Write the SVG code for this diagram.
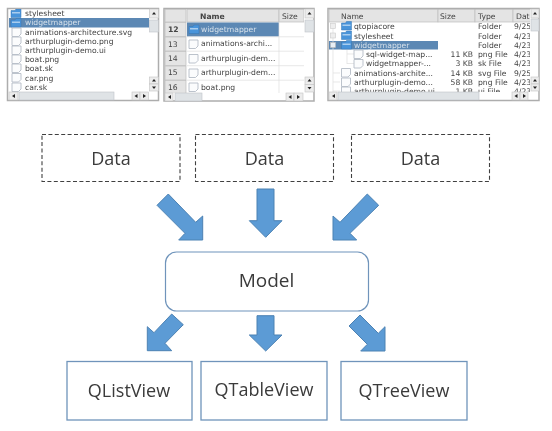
<svg xmlns="http://www.w3.org/2000/svg" width="552" height="431" viewBox="0 0 552 431">
<style>
.t{font-family:"DejaVu Sans",sans-serif;font-size:7.65px;fill:#444}
.b{font-weight:bold}
.w{fill:#d5e0ea}
.frame{fill:#fff;stroke:#adadad;stroke-width:1.5}
.hd{fill:#e4e4e4;stroke:#bdbdbd;stroke-width:.7}
.sel{fill:#5c88b4}
.btn{fill:#ececec;stroke:#c4c4c4;stroke-width:.6}
.thumb{fill:#dfe3e6;stroke:#c0c4c8;stroke-width:.6}
.ar{fill:#222}
.grid{stroke:#dedede;stroke-width:.7;fill:none}
.data{fill:#fff;stroke:#404040;stroke-width:1.1;stroke-dasharray:4 2.4}
.model{fill:#fff;stroke:#6f94bb;stroke-width:1.2}
.view{fill:#fff;stroke:#6f94bb;stroke-width:1.3}
.lab{font-family:"Open Sans","Noto Sans",sans-serif;fill:#3a3a3a;text-anchor:middle}
.arrow{fill:#5b9bd5;stroke:#4d82b3;stroke-width:1}
</style>
<defs>
<filter id="soft" x="-2%" y="-2%" width="104%" height="104%"><feGaussianBlur stdDeviation="0.45"/></filter>
<filter id="soft2" x="-2%" y="-2%" width="104%" height="104%"><feGaussianBlur stdDeviation="0.3"/></filter>
<g id="file"><path d="M0 0H9V6L6.500 8.500H0Z" fill="#fbfcfd" stroke="#b4bcc6" stroke-width=".9"/></g>
<g id="folder"><path d="M0 1.500H4L5 0H10V8.500H0Z" fill="#4a94da" stroke="#3576b4" stroke-width=".5"/><path d="M1 3H9V4.500H1Z" fill="#a9cdee"/></g>
<clipPath id="c1"><rect x="9" y="9" width="140" height="83"/></clipPath>
<clipPath id="c2"><rect x="165" y="9" width="139" height="84"/></clipPath>
<clipPath id="c3"><rect x="329" y="9" width="201" height="83"/></clipPath>
</defs>

<g id="list-screenshot" filter="url(#soft)">
<rect class="frame" x="7.500" y="8.500" width="151" height="92"/>
<g clip-path="url(#c1)">
<rect class="sel" x="9" y="18" width="140" height="9.500"/>
<use href="#folder" x="11" y="9"/><use href="#folder" x="11" y="18.500"/>
<use href="#file" x="12" y="28"/><use href="#file" x="12" y="37"/><use href="#file" x="12" y="46"/><use href="#file" x="12" y="55"/><use href="#file" x="12" y="64"/><use href="#file" x="12" y="73.500"/><use href="#file" x="12" y="83"/>
<text class="t" x="25" y="16">stylesheet</text>
<text class="t w" x="25" y="25.300">widgetmapper</text>
<text class="t" x="25" y="34.500">animations-architecture.svg</text>
<text class="t" x="25" y="43.700">arthurplugin-demo.png</text>
<text class="t" x="25" y="52.800">arthurplugin-demo.ui</text>
<text class="t" x="25" y="62">boat.png</text>
<text class="t" x="25" y="71">boat.sk</text>
<text class="t" x="25" y="80.500">car.png</text>
<text class="t" x="25" y="89.500">car.sk</text>
</g>
<rect class="btn" x="149.500" y="9" width="9" height="9"/><path class="ar" d="M152 14.500h4l-2-2.500z"/>
<rect class="thumb" x="149.500" y="20" width="9" height="12"/>
<rect class="btn" x="149.500" y="77" width="9" height="7"/><path class="ar" d="M152 81.500h4l-2-2.500z"/>
<rect class="btn" x="149.500" y="84" width="9" height="7"/><path class="ar" d="M152 86.500h4l-2 2.500z"/>
<rect class="btn" x="9" y="92" width="9" height="8"/><path class="ar" d="M15 94v4l-3-2z"/>
<rect class="thumb" x="19" y="92" width="95" height="8"/>
<rect class="btn" x="132" y="92" width="8" height="8"/><path class="ar" d="M137.500 94v4l-3-2z"/>
<rect class="btn" x="140" y="92" width="8.500" height="8"/><path class="ar" d="M143 94v4l3-2z"/>
</g>

<g id="table-screenshot" filter="url(#soft)">
<rect class="frame" x="164" y="8.500" width="150" height="92.500"/>
<g clip-path="url(#c2)">
<rect class="hd" x="165" y="9.500" width="21" height="12.500"/><rect class="hd" x="187" y="9.500" width="92" height="12.500"/><rect class="hd" x="279" y="9.500" width="25" height="12.500"/>
<rect class="hd" x="165" y="22.500" width="21" height="14"/><rect class="hd" x="165" y="37" width="21" height="14"/><rect class="hd" x="165" y="51.500" width="21" height="14"/><rect class="hd" x="165" y="66" width="21" height="14"/><rect class="hd" x="165" y="80.500" width="21" height="14"/>
<rect class="sel" x="187" y="22.500" width="92" height="14"/>
<path class="grid" d="M187 36.800H304M187 51.200H304M187 65.700H304M187 80.200H304M279 22V93"/>
<use href="#folder" x="189" y="25"/><use href="#file" x="189" y="40"/><use href="#file" x="189" y="54.500"/><use href="#file" x="189" y="69"/><use href="#file" x="189" y="83"/>
<text class="t b" x="200" y="18.500">Name</text><text class="t" x="282" y="18.500">Size</text>
<text class="t b" x="168" y="32">12</text><text class="t" x="168" y="46.500">13</text><text class="t" x="168" y="60.500">14</text><text class="t" x="168" y="75">15</text><text class="t" x="168" y="90">16</text>
<text class="t w" x="201" y="31.500">widgetmapper</text>
<text class="t" x="201" y="46">animations-archi...</text>
<text class="t" x="201" y="60.500">arthurplugin-dem...</text>
<text class="t" x="201" y="75">arthurplugin-dem...</text>
<text class="t" x="201" y="90">boat.png</text>
</g>
<rect class="btn" x="305" y="9" width="9" height="9"/><path class="ar" d="M307.500 14.500h4l-2-2.500z"/>
<rect class="thumb" x="305" y="20" width="9" height="12"/>
<rect class="btn" x="305" y="77" width="9" height="7.500"/><path class="ar" d="M307.500 81.500h4l-2-2.500z"/>
<rect class="btn" x="305" y="84.500" width="9" height="7.500"/><path class="ar" d="M307.500 87h4l-2 2.500z"/>
<rect class="btn" x="165" y="93" width="8" height="8"/><path class="ar" d="M171 95v4l-3-2z"/>
<rect class="thumb" x="175" y="93" width="27" height="8"/>
<rect class="btn" x="286" y="93" width="8" height="8"/><path class="ar" d="M291.500 95v4l-3-2z"/>
<rect class="btn" x="294" y="93" width="9" height="8"/><path class="ar" d="M297 95v4l3-2z"/>
</g>

<g id="tree-screenshot" filter="url(#soft)">
<rect class="frame" x="328" y="8.500" width="211" height="92"/>
<g clip-path="url(#c3)">
<rect class="hd" x="329" y="9.500" width="109" height="12.500"/><rect class="hd" x="438" y="9.500" width="37" height="12.500"/><rect class="hd" x="475" y="9.500" width="38" height="12.500"/><rect class="hd" x="513" y="9.500" width="18" height="12.500"/>
<rect class="sel" x="329" y="41" width="109" height="8.500"/>
<path class="grid" d="M333 24V92M347 50V64M347 54H354M347 63.500H354M333 73H340M333 82H340M333 91H340"/>
<rect x="330.500" y="23.500" width="5" height="5" fill="#eee" stroke="#ccc" stroke-width=".6"/><rect x="330.500" y="33" width="5" height="5" fill="#eee" stroke="#ccc" stroke-width=".6"/><rect x="330.500" y="42.500" width="5" height="5" fill="#e8eef4" stroke="#bbb" stroke-width=".6"/>
<use href="#folder" x="341.500" y="21.500"/><use href="#folder" x="341.500" y="31"/><use href="#folder" x="341.500" y="40.500"/>
<use href="#file" x="354" y="50"/><use href="#file" x="354" y="59.500"/>
<use href="#file" x="341.500" y="68.500"/><use href="#file" x="341.500" y="78"/><use href="#file" x="341.500" y="87"/>
<text class="t" x="341" y="18.500">Name</text><text class="t" x="440" y="18.500">Size</text><text class="t" x="478" y="18.500">Type</text><text class="t" x="516" y="18.500">Date</text>
<text class="t" x="354" y="29">qtopiacore</text>
<text class="t" x="354" y="38.500">stylesheet</text>
<text class="t w" x="354" y="47.800">widgetmapper</text>
<text class="t" x="366" y="57">sql-widget-map...</text>
<text class="t" x="366" y="66">widgetmapper-...</text>
<text class="t" x="354" y="75.500">animations-archite...</text>
<text class="t" x="354" y="85">arthurplugin-demo...</text>
<text class="t" x="354" y="94">arthurplugin-demo.ui</text>
<g text-anchor="end"><text class="t" x="473" y="57">11 KB</text><text class="t" x="473" y="66">3 KB</text><text class="t" x="473" y="75.500">14 KB</text><text class="t" x="473" y="85">58 KB</text><text class="t" x="473" y="94">1 KB</text></g>
<text class="t" x="478" y="29">Folder</text><text class="t" x="478" y="38.500">Folder</text><text class="t" x="478" y="47.800">Folder</text><text class="t" x="478" y="57">png File</text><text class="t" x="478" y="66">sk File</text><text class="t" x="478" y="75.500">svg File</text><text class="t" x="478" y="85">png File</text><text class="t" x="478" y="94">ui File</text>
<text class="t" x="514" y="29">9/25</text><text class="t" x="514" y="38.500">4/23</text><text class="t" x="514" y="47.800">4/23</text><text class="t" x="514" y="57">4/23</text><text class="t" x="514" y="66">4/23</text><text class="t" x="514" y="75.500">9/25</text><text class="t" x="514" y="85">4/23</text><text class="t" x="514" y="94">4/23</text>
</g>
<rect class="btn" x="531" y="9" width="8" height="9"/><path class="ar" d="M533 14.500h4l-2-2.500z"/>
<rect class="thumb" x="531" y="19" width="8" height="12"/>
<rect class="btn" x="531" y="77" width="8" height="7"/><path class="ar" d="M533 81.500h4l-2-2.500z"/>
<rect class="btn" x="531" y="84" width="8" height="7"/><path class="ar" d="M533 86.500h4l-2 2.500z"/>
<rect class="btn" x="329" y="92" width="8" height="8"/><path class="ar" d="M335 94v4l-3-2z"/>
<rect class="thumb" x="338" y="92" width="141" height="8"/>
<rect class="btn" x="512" y="92" width="8" height="8"/><path class="ar" d="M517.500 94v4l-3-2z"/>
<rect class="btn" x="520" y="92" width="8" height="8"/><path class="ar" d="M523 94v4l3-2z"/>
</g>

<g id="connectors" filter="url(#soft2)">
<polygon class="arrow" points="168.300,194 195.700,222.300 202.700,216 202.700,240 178.700,240 185,233.300 157,205.300"/>
<polygon class="arrow" points="257,189 274,189 274,220.700 282,220.700 265.700,237.300 249.300,220.700 257,220.700"/>
<polygon class="arrow" points="367.300,194 378.700,205.300 350,233.300 356.700,240 333,240 333,216 340,222.300"/>
<polygon class="arrow" points="171.700,314 183.300,324.700 165,343.300 171.700,350.700 147.300,350.700 147.300,326.700 154,332.700"/>
<polygon class="arrow" points="257,315.700 274,315.700 274,335 282,335 265.700,351 249.300,335 257,335"/>
<polygon class="arrow" points="360,315 349,326 367.300,344.300 360.700,351 385,351 385,326.700 378.300,333.300"/>
</g>

<g id="data-1" filter="url(#soft2)"><rect class="data" x="42" y="134.500" width="138" height="47"/><text class="lab" x="111" y="164.500" font-size="18">Data</text></g>
<g id="data-2" filter="url(#soft2)"><rect class="data" x="195.500" y="134.500" width="138" height="47"/><text class="lab" x="264.500" y="164.500" font-size="18">Data</text></g>
<g id="data-3" filter="url(#soft2)"><rect class="data" x="351.500" y="134.500" width="138" height="47"/><text class="lab" x="420.500" y="164.500" font-size="18">Data</text></g>
<g id="model" filter="url(#soft2)"><rect class="model" x="165.500" y="252" width="203" height="59" rx="11"/><text class="lab" x="266.500" y="286.500" font-size="19">Model</text></g>
<g id="qlistview" filter="url(#soft2)"><rect class="view" x="67" y="361.500" width="125" height="58.500"/><text class="lab" x="129" y="397" font-size="18">QListView</text></g>
<g id="qtableview" filter="url(#soft2)"><rect class="view" x="201" y="361.500" width="126" height="58.500"/><text class="lab" x="264" y="396" font-size="18">QTableView</text></g>
<g id="qtreeview" filter="url(#soft2)"><rect class="view" x="341" y="361.500" width="126" height="58.500"/><text class="lab" x="404" y="397" font-size="18">QTreeView</text></g>
</svg>
